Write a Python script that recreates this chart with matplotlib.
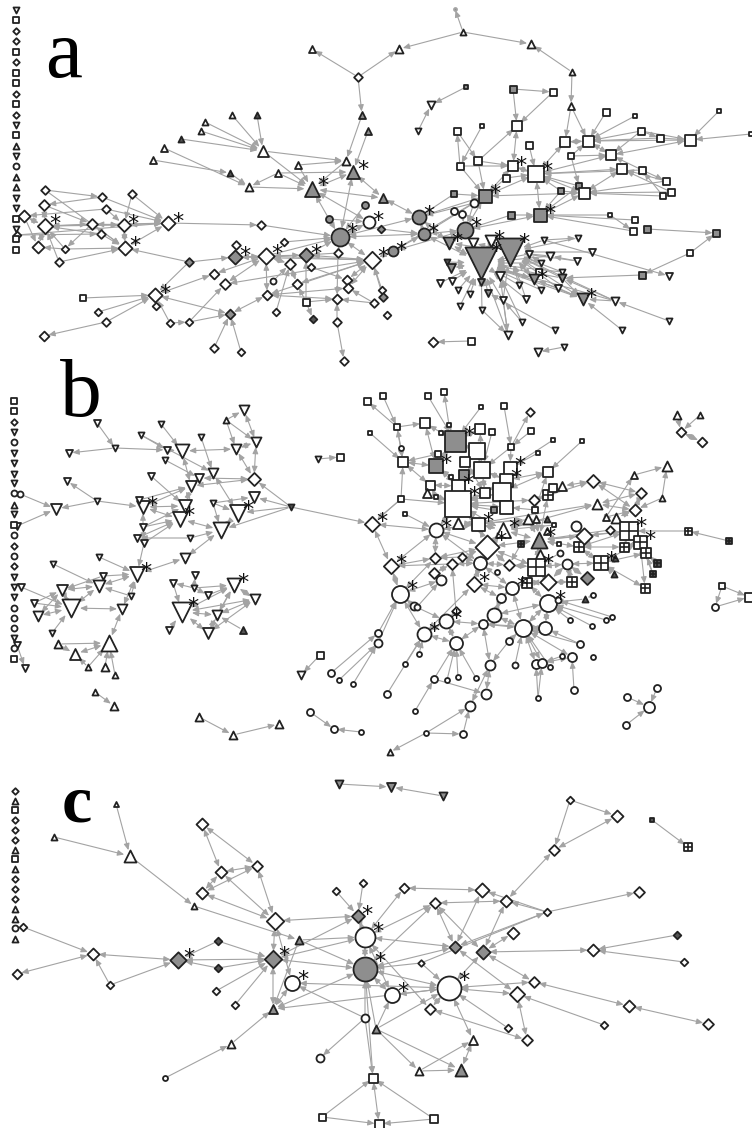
import matplotlib
matplotlib.use("Agg")
import matplotlib.pyplot as plt
from matplotlib.patches import FancyArrowPatch

# nodes: id, x, y, shape, size, fill, star  (# = square with a cross)
a_nodes = [
("a1",45,190,"D",8,"w",0),("a2",102,197,"D",8,"w",0),("a3",132,194,"D",8,"w",0),("a4",44,205,"D",10,"w",0),
("a5",106,209,"D",8,"w",0),("a6",24,216,"D",11,"w",0),("a7",45,226,"D",14,"w",1),("a8",92,224,"D",10,"w",0),
("a9",124,225,"D",12,"w",1),("a10",168,223,"D",13,"w",1),("a11",101,234,"D",8,"w",0),("a12",17,235,"D",7,"w",0),
("a13",38,247,"D",11,"w",0),("a14",65,249,"D",7,"w",0),("a15",125,248,"D",13,"w",1),("a16",59,262,"D",8,"w",0),
("a17",261,225,"D",8,"w",0),("a18",189,262,"D",8,"g",0),("a19",235,257,"D",13,"g",1),("a20",266,256,"D",15,"w",1),
("a21",306,255,"D",13,"g",1),("a22",236,245,"D",8,"w",0),("a23",284,242,"D",7,"w",0),("a24",338,253,"D",8,"w",0),
("a25",290,264,"D",10,"w",0),("a26",311,267,"D",7,"w",0),("a27",214,274,"D",9,"w",0),("a28",225,284,"D",10,"w",0),
("a29",273,281,"o",6,"w",0),("a30",297,284,"D",9,"w",0),("a31",347,280,"D",9,"w",0),("a32",348,288,"D",9,"w",0),
("a33",155,295,"D",13,"w",1),("a34",83,298,"s",6,"w",0),("a35",98,312,"D",7,"w",0),("a36",156,306,"D",7,"w",0),
("a37",106,322,"D",8,"w",0),("a38",44,336,"D",9,"w",0),("a39",170,323,"D",7,"w",0),("a40",189,322,"D",7,"w",0),
("a41",230,314,"D",9,"g",0),("a42",267,295,"D",9,"w",0),("a43",306,302,"s",7,"w",0),("a44",337,299,"D",9,"w",0),
("a45",374,303,"D",8,"w",0),("a46",276,312,"D",7,"w",0),("a47",313,319,"D",7,"d",0),("a48",337,322,"D",8,"w",0),
("a49",344,361,"D",8,"w",0),("a50",214,348,"D",8,"w",0),("a51",241,352,"D",7,"w",0),("a52",372,260,"D",16,"w",1),
("a53",358,77,"D",8,"w",0),("d1",381,229,"D",7,"g",0),("d2",382,290,"D",7,"w",0),("d3",383,297,"D",8,"g",0),
("d5",387,315,"D",7,"w",0),("d6",433,342,"D",9,"w",0),("u1",455,9,"o",3,"g",0),
("t1",312,49,"^",7,"w",0),("t2",362,115,"^",7,"g",0),("t3",368,131,"^",7,"g",0),("t4",257,115,"^",6,"d",0),
("t5",232,115,"^",6,"w",0),("t6",205,122,"^",6,"w",0),("t7",201,131,"^",6,"w",0),("t8",181,139,"^",6,"d",0),
("t9",164,148,"^",7,"w",0),("t10",153,160,"^",7,"w",0),("t11",263,151,"^",11,"w",0),("t12",346,161,"^",8,"w",0),
("t13",298,165,"^",7,"w",0),("t14",278,173,"^",7,"w",0),("t15",230,173,"^",6,"d",0),("t16",249,187,"^",8,"w",0),
("t17",312,189,"^",15,"g",1),("t18",353,172,"^",13,"g",1),("t19",383,198,"^",9,"g",0),("t20",463,32,"^",6,"w",0),
("t21",399,49,"^",8,"w",0),("t22",531,44,"^",8,"w",0),("t23",572,72,"^",6,"w",0),("t24",571,106,"^",7,"w",0),
("c1",329,219,"o",7,"g",0),("c2",365,205,"o",7,"g",0),("c3",369,222,"o",12,"w",1),("c4",340,237,"o",18,"g",1),
("c5",419,217,"o",14,"g",1),("c6",424,234,"o",12,"g",1),("c7",465,230,"o",16,"g",1),("c8",474,203,"o",8,"w",0),
("c9",454,211,"o",7,"w",0),("c10",462,214,"o",7,"w",0),("c11",393,251,"o",10,"g",1),
("s1",466,87,"s",5,"g",0),("s2",513,89,"s",7,"g",0),("s3",553,92,"s",7,"w",0),("s4",517,126,"s",10,"w",0),
("s5",606,112,"s",7,"w",0),("s6",635,116,"s",5,"w",0),("s7",719,111,"s",5,"w",0),("s8",457,131,"s",7,"w",0),
("s9",482,126,"s",5,"w",0),("s10",641,131,"s",7,"w",0),("s11",660,138,"s",7,"w",0),("s12",690,140,"s",11,"w",0),
("s13",751,134,"s",5,"w",0),("s14",529,145,"s",7,"w",0),("s15",565,142,"s",10,"w",0),("s16",588,141,"s",11,"w",0),
("s17",611,155,"s",10,"w",0),("s18",571,156,"s",6,"w",0),("s19",460,166,"s",7,"w",0),("s20",478,161,"s",8,"w",0),
("s21",513,166,"s",10,"w",1),("s22",506,178,"s",7,"w",0),("s23",536,174,"s",16,"w",1),("s24",622,169,"s",10,"w",0),
("s25",642,170,"s",7,"w",0),("s26",666,181,"s",7,"w",0),("s27",671,192,"s",7,"w",0),("s28",663,196,"s",6,"w",0),
("s29",454,194,"s",6,"g",0),("s30",485,196,"s",13,"g",1),("s31",561,191,"s",6,"g",0),("s32",579,186,"s",6,"g",0),
("s33",584,193,"s",11,"w",0),("s34",511,215,"s",7,"g",0),("s35",540,215,"s",13,"g",1),("s36",610,215,"s",5,"w",0),
("s37",635,220,"s",6,"w",0),("s38",633,231,"s",7,"w",0),("s39",647,229,"s",7,"g",0),("s40",716,233,"s",7,"g",0),
("s41",690,253,"s",6,"w",0),("s42",642,275,"s",7,"g",0),("s43",471,341,"s",7,"w",0),("s44",539,272,"s",6,"w",0),
("v1",431,105,"v",8,"w",0),("v2",418,131,"v",6,"w",0),("v3",449,243,"v",12,"g",1),("v4",473,243,"v",10,"w",0),
("v5",491,241,"v",12,"w",1),("v6",481,263,"v",32,"g",1),("v7",510,252,"v",28,"g",1),("v8",544,240,"v",6,"w",0),
("v9",578,238,"v",6,"w",0),("v10",592,252,"v",7,"w",0),("v11",447,262,"v",6,"d",0),("v12",529,254,"v",7,"w",0),
("v13",541,263,"v",6,"w",0),("v14",550,256,"v",8,"w",0),("v15",577,261,"v",7,"w",0),("v16",451,268,"v",9,"g",0),
("v17",500,276,"v",9,"w",0),("v18",534,279,"v",10,"g",1),("v19",562,272,"v",6,"w",0),("v20",562,278,"v",8,"g",0),
("v21",440,283,"v",7,"w",0),("v22",452,281,"v",7,"w",0),("v23",481,282,"v",7,"g",0),("v24",519,285,"v",6,"w",0),
("v25",458,290,"v",6,"w",0),("v26",470,294,"v",6,"w",0),("v27",488,293,"v",7,"g",0),("v28",503,300,"v",7,"w",0),
("v29",526,299,"v",7,"w",0),("v30",541,290,"v",6,"w",0),("v31",558,288,"v",7,"w",0),("v32",583,299,"v",12,"g",1),
("v33",615,301,"v",8,"w",0),("v34",669,276,"v",7,"w",0),("v35",460,306,"v",6,"w",0),("v36",482,310,"v",6,"w",0),
("v37",522,322,"v",6,"w",0),("v38",508,335,"v",8,"w",0),("v39",555,330,"v",6,"w",0),("v40",622,330,"v",6,"w",0),
("v41",669,321,"v",6,"w",0),("v42",538,352,"v",8,"w",0),("v43",564,347,"v",6,"w",0),
]
a_edges = """a1=a2 a1=a15 a2=a4 a2=a10 a3>a9 a3>a10 a4=a7 a4>a8 a5=a10 a5=a6 a5>a9 a6=a7 a6>a13 a7=a8 a7=a9 a7=a10 a7=a13
a7=a14 a7=a16 a8=a15 a8=a9 a8>a14 a9=a10 a9=a15 a10=a15 a10=a12 a11=a12 a11=a15 a11=a7 a13=a14 a14=a15 a16=a15 a10>a17 a17>c4
a15=a18 a18=a19 a18=a33 a19=a20 a19=a22 a20=a21 a23>c4 a20>c4 a21>c4 a20=a25 a20=a28 a20=a27 a20=a42 a21=a52 a21=a43 a21=a24
a25=a46 a25=a29 a25=a30 a26=a31 a24=a44 a30=a52 a30=a43 a27=a33 a33=a34 a33=a35 a33=a37 a37=a38 a33=a41 a33=a39 a39=a40 a40=a28
a40=a41 a41=a42 a42=a44 a42=a52 a41=a50 a41=a51 a43=a47 a43=a44 a44=a45 a44=a48 a48=a49 a31=a52 a32=a52 a32=a45 a32=a42 a28=a52
a19=a52 a20=a52 a53>t1 a53>t2 a53=t21 t21=t20 t20=t22 t20>u1 t22=t23 t23=t24 t24=s15 t24=s16 t4>t11 t5>t11 t6>t11 t7>t11 t8>t11
t11>t12 t11>t17 t9=t16 t10>t15 t15=t16 t16=t14 t16=t17 t14=t17 t13=t17 t13=t12 t14=t18 t17=t18 t12=t2 t12=t17 t18=t3 t17=c1 c1=c4
t17=c3 t18=c4 t19=t18 t19=t17 c2=c4 c3=c4 c1=c3 c4=c5 c4=c6 c4=a52 c4=a24 c5=t19 c5=s29 c5=c6 c5=c8 c5=s30 c6=c7 c6=c8 c6=c11 c6=d1
c7=s30 c7=s34 c7=s35 c7=c8 c7=c10 c11=s30 c11=c7 c11=a52 a52=d2 a52=d3 c7=v3 c5=v3 c6=v6 s29=s30 s30=s22 s30=s19 s30=s20 s30=s23
s30=s21 s30=s33 s23=s35 s23=s22 s23=s21 s23=s14 s23=s15 s23=s17 s23=s24 s23=s32 s23=s33 s23=s31 s21=s19 s21=s20 s21=s4 s4=s2 s4=s3
s4=s20 s2=s3 s19=s8 s19=s9 s20=s8 s34=s35 s35=s31 s35=s32 s35=s36 s35=s37 s35=s38 s36=s38 s35=s33 s32=s33 s31=s33 s18=s32 s18=s16
s18=s17 s15=s16 s16=s5 s16=s6 s16=s10 s16=s11 s16=s17 s16=s12 s10=s11 s10=s12 s11=s12 s10=s17 s12=s13 s7>s12 s17=s25 s17=s12 s24=s26
s24=s27 s24=s33 s25=s28 s25=s26 s33=s27 s33=s28 s33=s26 s23=s25 s39=s40 s40=s41 s41=s42 s42=v20 v1=s1 v1=v2 v6=v3 v6=v4 v6=v5 v6=v11
v6=v16 v6=v21 v6=v22 v6=v23 v6=v25 v6=v26 v6=v27 v6=v28 v6=v17 v6=v35 v6=v36 v6=v38 v6=v29 v6=v18 v6=v13 v6=v12 v6=v14 v6=v19 v6=v20
v6=v24 v6=v30 v6=v31 v6=v33 v6=v32 v7=v8 v7=v9 v7=v10 v7=v12 v7=v14 v7=v13 v7=v15 v7=v18 v7=v17 v7=v20 v7=v31 v7=v32 v7=v33 v7=v19
v7=v24 v7=v30 v7=v29 v7=v4 v7=v5 v7=v3 v7=v28 v8=v9 v8>v34 v38=v28 v38=v17 v38=v36 v37=v17 v37=v28 v39=v27 v40=v32 v41=v33 v32=v33
v32=v20 v32=v18 v32=v31 v33=v20 v14=v15 v12=v13 d6=s43 v42=v43"""
a_col_shapes = list("vsDDsDssDsDvs^vo^^vvsvss")
a_col_fill = list("wwwwwwwwwgwwwwwwwwwwwwwg")
a_col_y = [10,20,31,41,52,62,73,83,94,104,115,125,135,146,156,166,177,187,198,208,219,229,239,250]

b_nodes = [
("b1",97,423,"v",7,"w",0),("b2",161,424,"v",6,"w",0),("b3",226,420,"^",6,"w",0),("b4",244,410,"v",10,"w",0),
("b5",256,442,"v",10,"w",0),("b6",141,435,"v",6,"w",0),("b7",201,437,"v",6,"w",0),("b8",115,448,"v",6,"w",0),
("b9",69,453,"v",7,"w",0),("b10",167,450,"v",7,"w",0),("b11",182,451,"v",14,"w",0),("b12",236,449,"v",10,"w",0),
("b13",165,460,"v",6,"w",0),("b14",213,473,"v",10,"w",0),("b15",254,479,"D",12,"w",0),("b16",199,478,"v",9,"w",0),
("b17",191,486,"v",11,"w",0),("b18",151,476,"v",7,"w",0),("b19",67,481,"v",7,"w",0),("b20",97,501,"v",6,"w",0),
("b21",291,507,"v",6,"d",0),("b22",254,497,"v",11,"w",0),("b23",213,503,"v",6,"w",0),("b24",238,513,"v",17,"w",1),
("b25",185,506,"v",13,"w",0),("b26",180,519,"v",15,"w",1),("b27",221,530,"v",16,"w",0),("b28",143,507,"v",13,"w",1),
("b29",139,500,"v",7,"w",0),("b30",56,509,"v",11,"w",0),("b31",20,494,"o",6,"w",0),("b32",17,526,"v",7,"w",0),
("b33",143,527,"v",7,"w",0),("b34",137,538,"v",7,"w",0),("b35",144,543,"v",7,"w",0),("b36",190,538,"v",6,"w",0),
("b37",185,558,"v",10,"w",0),("b38",99,557,"v",6,"w",0),("b39",53,564,"v",6,"w",0),("b40",137,574,"v",15,"w",1),
("b41",103,576,"v",7,"w",0),("b42",99,586,"v",12,"w",0),("b43",62,590,"v",11,"w",0),("b44",21,587,"v",7,"w",0),
("b45",34,603,"v",7,"w",0),("b46",71,608,"v",18,"w",0),("b47",38,616,"v",10,"w",0),("b48",131,596,"v",6,"w",0),
("b49",122,609,"v",10,"w",0),("b50",52,633,"v",6,"w",0),("b51",173,583,"v",7,"w",0),("b52",195,575,"v",7,"w",0),
("b53",194,588,"v",6,"w",0),("b54",208,595,"v",7,"w",0),("b55",234,585,"v",14,"w",1),("b56",255,599,"v",10,"w",0),
("b57",182,612,"v",20,"w",1),("b58",217,615,"v",10,"w",0),("b59",169,630,"v",7,"w",0),("b60",208,633,"v",11,"w",0),
("b61",243,630,"^",7,"d",0),("b62",109,643,"^",16,"w",0),("b63",58,644,"^",8,"w",0),("b64",75,654,"^",11,"w",0),
("b65",88,667,"^",6,"w",0),("b66",105,667,"^",8,"w",0),("b67",115,675,"^",6,"w",0),("b68",25,668,"v",7,"w",0),
("b69",17,645,"v",7,"w",0),("b70",95,692,"^",6,"w",0),("b71",114,706,"^",8,"w",0),("b72",199,717,"^",8,"w",0),
("b73",233,735,"^",8,"w",0),("b74",279,724,"^",8,"w",0),("b75",310,712,"o",7,"w",0),("b76",334,729,"o",7,"w",0),
("b77",361,732,"o",5,"w",0),("b78",318,459,"v",6,"w",0),("b79",340,457,"s",7,"w",0),("b80",320,655,"s",7,"w",0),
("b81",301,675,"v",8,"w",0),("b82",331,673,"o",7,"w",0),("b83",339,680,"o",5,"w",0),("b84",353,684,"o",5,"w",0),
("x1",367,401,"s",7,"w",0),("x2",370,433,"s",5,"w",0),("x3",372,524,"D",14,"w",1),
("r1",383,396,"s",6,"w",0),("r2",428,396,"s",6,"w",0),("r3",444,392,"s",6,"w",0),("r4",481,407,"s",5,"w",0),
("r5",504,406,"s",6,"w",0),("r6",530,412,"D",8,"w",0),("r7",397,427,"s",6,"w",0),("r8",425,423,"s",10,"w",0),
("r9",449,425,"s",5,"w",0),("r10",441,433,"s",5,"w",0),("r11",455,441,"s",21,"g",1),("r12",480,429,"s",10,"w",0),
("r13",492,432,"s",6,"w",0),("r14",531,431,"s",6,"w",0),("r15",553,440,"s",5,"w",0),("r16",582,441,"s",5,"w",0),
("r17",401,448,"o",5,"w",0),("r18",511,447,"s",6,"w",0),("r19",477,451,"s",16,"w",0),("r20",438,454,"s",6,"w",0),
("r21",538,453,"s",5,"w",0),("r22",403,462,"s",10,"w",0),("r23",436,466,"s",14,"g",1),("r24",465,462,"s",10,"w",0),
("r25",482,470,"s",16,"w",0),("r26",510,468,"s",13,"w",1),("r27",548,472,"s",10,"w",0),("r28",464,475,"s",10,"g",0),
("r29",451,477,"s",5,"w",0),("r30",506,480,"s",13,"w",1),("r31",430,485,"s",9,"w",0),("r32",458,486,"s",13,"w",1),
("r33",485,493,"s",10,"w",0),("r34",502,492,"s",18,"w",0),("r35",427,493,"^",9,"w",0),("r36",436,497,"s",5,"w",0),
("r37",401,499,"s",6,"w",0),("r38",458,504,"s",26,"w",1),("r39",506,507,"s",13,"w",0),("r40",494,510,"s",6,"g",0),
("r41",405,514,"s",5,"w",0),("r42",535,510,"s",6,"w",0),("r43",534,500,"D",10,"w",0),("r44",548,495,"#",10,"w",0),
("r45",553,488,"s",8,"w",0),("r46",562,486,"^",9,"w",0),("r47",593,481,"D",12,"w",0),("r48",641,493,"D",10,"w",0),
("r49",634,475,"^",7,"w",0),("r50",667,466,"^",10,"w",0),("r51",662,498,"^",6,"w",0),("r52",597,504,"^",10,"w",0),
("r53",635,510,"D",11,"w",0),("r54",606,517,"^",7,"w",0),("r55",616,518,"^",10,"w",0),("r56",629,531,"#",18,"w",1),
("r57",688,531,"#",7,"w",0),("r58",729,541,"#",6,"d",0),("r59",640,542,"#",13,"w",1),("r60",646,553,"#",10,"w",0),
("r61",657,563,"#",7,"d",0),("r62",653,574,"#",6,"d",0),("r63",645,588,"#",9,"w",0),("r64",601,563,"#",14,"w",1),
("r65",624,547,"#",9,"w",0),("r66",579,547,"#",10,"w",0),("r67",615,558,"^",6,"d",0),("r68",614,574,"^",6,"d",0),
("r69",610,530,"D",8,"w",0),("r70",576,526,"o",10,"w",0),("r71",584,536,"D",15,"w",0),("r72",547,519,"^",6,"d",0),
("r73",554,525,"s",5,"w",0),("r74",536,519,"^",7,"w",0),("r75",528,519,"^",10,"w",0),("r76",503,530,"^",15,"w",1),
("r77",539,540,"^",16,"g",1),("r78",547,531,"^",7,"w",0),("r79",559,544,"s",5,"w",0),("r80",560,553,"o",6,"w",0),
("r81",540,555,"^",11,"w",0),("r82",521,544,"#",6,"d",0),("r83",478,524,"s",13,"w",1),("r84",458,523,"^",11,"w",0),
("r85",436,530,"o",14,"w",1),("r86",487,547,"D",22,"w",1),("r87",435,558,"D",10,"w",0),("r88",462,557,"D",8,"w",0),
("r89",452,564,"D",10,"w",0),("r90",391,566,"D",14,"w",1),("r91",480,563,"o",13,"w",0),("r92",509,565,"D",10,"w",0),
("r93",536,567,"#",17,"w",1),("r94",567,564,"o",10,"w",0),("r95",497,572,"o",5,"w",0),("r96",434,573,"D",10,"w",0),
("r97",441,580,"o",10,"w",0),("r98",527,583,"#",10,"w",0),("r99",572,582,"#",10,"w",0),("r100",587,578,"D",12,"g",0),
("r101",548,582,"D",15,"w",0),("r102",474,584,"D",14,"w",1),("r103",512,588,"o",13,"w",1),("r104",501,598,"o",9,"w",0),
("r105",400,594,"o",17,"w",1),("r106",548,603,"o",17,"w",1),("r107",585,599,"^",6,"d",0),("r108",593,595,"o",5,"w",0),
("r109",558,600,"o",6,"w",0),("r110",414,606,"o",8,"w",0),("r111",417,607,"o",6,"w",0),("r112",456,611,"D",8,"w",0),
("r113",446,621,"o",14,"w",1),("r114",494,615,"o",14,"w",0),("r115",483,624,"o",9,"w",0),("r116",523,628,"o",17,"w",0),
("r117",545,628,"o",13,"w",0),("r118",424,634,"o",14,"w",1),("r119",456,643,"o",13,"w",0),("r120",570,620,"o",5,"w",0),
("r121",606,620,"o",5,"w",0),("r122",612,617,"o",5,"w",0),("r123",592,626,"o",5,"w",0),("r124",509,641,"o",7,"w",0),
("r125",580,644,"o",7,"w",0),("r126",562,656,"o",5,"w",0),("r127",572,657,"o",9,"w",0),("r128",593,657,"o",5,"w",0),
("r129",405,664,"o",5,"w",0),("r130",419,654,"o",5,"w",0),("r131",490,665,"o",10,"w",0),("r132",515,665,"o",6,"w",0),
("r133",536,664,"o",9,"w",0),("r134",542,663,"o",9,"w",0),("r135",550,667,"o",5,"w",0),("r136",378,633,"o",7,"w",0),
("r161",378,643,"o",8,"w",0),("r137",434,679,"o",7,"w",0),("r138",447,680,"o",5,"w",0),("r139",458,677,"o",5,"w",0),
("r140",476,678,"o",5,"w",0),("r141",486,694,"o",10,"w",0),("r142",387,694,"o",7,"w",0),("r143",415,711,"o",5,"w",0),
("r144",538,698,"o",5,"w",0),("r145",574,690,"o",7,"w",0),("r146",470,706,"o",10,"w",0),("r147",426,733,"o",5,"w",0),
("r148",463,734,"o",7,"w",0),("r149",390,752,"^",6,"w",0),("r150",627,697,"o",7,"w",0),("r151",657,688,"o",7,"w",0),
("r152",649,707,"o",11,"w",0),("r153",626,725,"o",7,"w",0),("r154",722,586,"s",6,"w",0),("r155",749,597,"s",9,"w",0),
("r156",715,607,"o",7,"w",0),("r157",677,415,"^",8,"w",0),("r158",700,415,"^",6,"w",0),("r159",681,432,"D",9,"w",0),
("r160",702,442,"D",9,"w",0),
]
b_edges = """b1>b8 b9=b8 b8=b10 b10=b6 b10=b11 b11=b12 b2=b11 b3=b4 b3=b5 b3=b12 b4=b5 b5=b12 b5=b15 b12=b15 b7=b14 b13=b16 b6>b14 b14=b24
b11=b17 b15=b16 b15=b17 b15=b21 b16=b17 b17=b28 b17=b29 b17=b25 b18=b25 b19=b20 b20=b30 b20=b28 b30=b31 b30=b32 b28=b25 b28=b26 b28=b33
b25=b26 b25=b33 b26=b27 b26=b35 b26=b33 b26=b34 b33=b35 b35=b34 b36=b34 b36=b27 b27=b24 b27=b23 b27=b37 b24=b23 b22=b23 b22=b21 b21=b24
b21=b27 b21>x3 b35=b40 b37=b40 b38=b40 b39=b42 b41=b40 b41=b43 b42=b40 b42=b43 b42=b46 b44=b46 b43=b46 b43=b45 b43=b47 b45=b46 b47=b46
b46=b50 b46=b49 b42=b48 b40=b48 b40=b49 b49=b62 b51=b53 b51=b57 b52=b53 b53=b55 b54=b55 b53=b54 b55=b56 b55=b57 b55=b58 b55=b60 b57=b56
b57=b58 b57=b59 b57=b60 b56=b58 b56=b60 b58=b61 b58=b60 b62=b63 b62=b64 b63=b64 b62=b65 b62=b66 b62=b67 b64=b65 b69=b68 b70=b71 b72=b73
b73=b74 b75=b76 b76=b77 b78=b79 b80=b81 b82=r136 b83=r161 b84=r161 x1=r7 x2=r22 x3=r85 x3=r37 x3=r90 r1=r7 r7=r8 r7=r22 r7=r17 r2=r11
r3=r9 r4=r11 r5=r18 r6=r18 r14=r18 r18=r26 r18=r25 r15=r26 r16=r27 r21=r26 r8=r11 r8=r23 r9=r11 r10=r11 r11=r12 r11=r19 r11=r23 r13=r25
r12=r25 r19=r25 r19=r24 r20=r22 r20=r23 r22=r23 r22=r37 r22=r31 r17=r22 r23=r29 r23=r32 r24=r33 r25=r33 r25=r28 r25=r30 r26=r30 r27=r30
r27=r34 r30=r34 r30=r33 r34=r38 r33=r38 r34=r39 r31=r32 r31=r35 r31=r36 r32=r38 r35=r38 r36=r38 r37=r38 r28=r32 r29=r32 r40=r38 r39=r38
r38=r83 r38=r76 r38=r85 r38=r43 r41=r85 r85=r90 r85=r91 r85=r87 r37=x3 r83=r86 r83=r76 r83=r85 r83=r84 r76=r86 r76=r77 r76=r91 r76=r74
r76=r75 r77=r71 r77=r66 r77=r69 r77=r56 r77=r93 r77=r86 r77=r75 r77=r74 r77=r79 r71=r56 r71=r70 r66=r56 r66=r64 r66=r65 r65=r56 r65=r59
r59=r56 r59=r60 r60=r61 r60=r62 r59=r63 r56=r57 r57=r58 r59=r62 r64=r67 r64=r68 r64=r59 r64=r60 r64=r63 r64=r94 r56=r55 r55=r54 r55=r53
r53=r52 r53=r47 r53=r48 r53=r51 r53=r54 r54=r49 r49=r50 r50=r51 r48=r47 r47=r46 r47=r43 r48=r52 r52=r76 r52=r85 r43=r44 r44=r45 r44=r46
r44=r77 r27=r42 r42=r39 r42=r77 r72=r76 r73=r76 r74=r83 r75=r83 r86=r85 r86=r87 r86=r88 r86=r91 r86=r93 r86=r92 r91=r92 r91=r89 r91=r88
r91=r102 r91=r103 r92=r93 r92=r82 r93=r94 r93=r101 r93=r98 r93=r80 r94=r99 r94=r100 r94=r101 r101=r98 r101=r99 r98=r103 r98=r106
r103=r102 r103=r116 r102=r104 r102=r118 r90=r91 r90=r105 r90=r87 r87=r88 r87=r105 r89=r112 r89=r96 r96=r97 r97=r105 r97=r111 r105=r110
r105=r118 r105=r136 r105=r161 r104=r103 r104=r114 r106=r116 r106=r114 r106=r117 r106=r107 r106=r121 r106=r123 r106=r109 r109=r122
r107=r108 r116=r117 r116=r114 r116=r115 r116=r124 r116=r132 r116=r133 r116=r134 r116=r135 r116=r125 r116=r127 r117=r125 r117=r115
r124=r131 r131=r115 r131=r141 r131=r146 r115=r114 r115=r119 r113=r118 r113=r115 r113=r112 r113=r110 r113=r119 r118=r119 r118=r130
r118=r129 r118=r142 r119=r137 r119=r138 r119=r139 r119=r140 r137=r143 r137=r141 r133=r144 r134=r144 r126=r134 r127=r145 r127=r134
r146=r147 r146=r148 r147=r148 r147=r149 r150=r152 r151=r152 r152=r153 r154=r155 r155=r156 r154=r156 r157=r159 r158=r159 r159=r160
r120=r106"""
b_col_shapes = list("ssDvovvvvo^vsoDoDvvvooovos")
b_col_y = [401,411,422,432,442,453,463,474,483,493,505,514,525,535,546,556,566,577,587,597,608,618,628,638,648,659]

c_nodes = [
("c1",116,804,"^",5,"w",0),("c2",54,837,"^",6,"w",0),("c3",130,856,"^",12,"w",0),("c4",202,824,"D",11,"w",0),
("c5",221,872,"D",11,"w",0),("c6",257,866,"D",10,"w",0),("c7",202,893,"D",11,"w",0),("c8",194,906,"^",6,"w",0),
("c9",275,921,"D",16,"w",0),("c10",336,891,"D",7,"w",0),("c11",363,883,"D",7,"w",0),("c12",358,916,"D",12,"g",1),
("c13",299,940,"^",8,"g",0),("c14",365,937,"o",20,"w",1),("c15",23,927,"D",7,"w",0),("c16",93,954,"D",11,"w",0),
("c17",17,974,"D",9,"w",0),("c18",110,985,"D",7,"w",0),("c19",178,960,"D",15,"g",1),("c20",218,941,"D",7,"d",0),
("c21",218,968,"D",7,"d",0),("c22",273,959,"D",16,"g",1),("c23",216,991,"D",7,"w",0),("c24",235,1005,"D",7,"w",0),
("c25",292,983,"o",15,"w",1),("c26",273,1009,"^",9,"g",0),("c27",231,1044,"^",8,"w",0),("c28",165,1078,"o",5,"w",0),
("c29",365,969,"o",24,"g",1),("c30",365,1018,"o",8,"w",0),("c31",376,1029,"^",8,"g",0),("c32",320,1058,"o",8,"w",0),
("c33",373,1078,"s",9,"w",0),("c34",322,1117,"s",7,"w",0),("c35",379,1124,"s",9,"w",0),("c37",391,787,"v",9,"g",0),
("c38",443,796,"v",8,"g",0),("c39",339,784,"v",8,"g",0),("c40",570,800,"D",7,"w",0),("c41",617,816,"D",11,"w",0),
("c42",554,850,"D",10,"w",0),("c43",652,820,"s",5,"d",0),("c44",688,847,"#",8,"w",0),("c45",404,888,"D",9,"w",0),
("c46",482,890,"D",13,"w",0),("c47",435,903,"D",10,"w",0),("c48",506,901,"D",11,"w",0),("c49",547,912,"D",7,"w",0),
("c50",639,892,"D",10,"w",0),("c51",513,933,"D",11,"w",0),("c52",677,935,"D",7,"d",0),("c53",455,947,"D",11,"g",0),
("c54",483,952,"D",13,"g",0),("c55",593,950,"D",11,"w",0),("c56",684,962,"D",7,"w",0),("c57",421,963,"D",6,"w",0),
("c58",449,988,"o",24,"w",1),("c59",534,982,"D",10,"w",0),("c60",517,994,"D",14,"w",0),("c61",629,1006,"D",11,"w",0),
("c62",708,1024,"D",10,"w",0),("c63",604,1025,"D",7,"w",0),("c64",508,1028,"D",7,"w",0),("c65",392,995,"o",15,"w",1),
("c66",430,1009,"D",10,"w",0),("c67",527,1040,"D",10,"w",0),("c68",473,1040,"^",9,"w",0),("c69",419,1071,"^",8,"w",0),
("c70",461,1070,"^",12,"g",0),("c71",434,1119,"s",8,"w",0),
]
c_edges = """c1>c3 c2>c3 c3>c8 c8=c13 c4=c5 c4=c6 c5=c6 c5=c7 c6=c7 c5=c9 c6=c9 c7=c9 c9=c12 c9=c22 c9=c25 c10>c12 c11>c12 c12=c14 c12=c22
c13=c14 c13=c29 c13=c26 c22=c14 c22=c29 c22=c19 c22=c20 c22=c21 c22=c23 c22=c24 c22=c26 c19=c20 c19=c21 c19=c16 c19=c18 c16=c15 c16=c17
c16=c18 c25=c26 c25=c30 c25=c58 c26=c27 c26=c29 c26=c58 c27=c28 c30=c29 c30=c32 c30=c33 c29=c33 c33=c34 c34=c35 c33=c35 c35=c71 c33=c71
c14=c29 c39=c37 c37=c38 c40=c41 c40=c42 c41=c42 c42=c48 c43=c44 c45=c46 c47=c48 c46=c49 c48=c49 c49=c50 c46=c53 c48=c54 c47=c54 c47=c53
c45=c14 c47=c14 c47=c29 c53=c29 c51=c54 c49=c53 c53=c60 c54=c59 c54=c58 c55=c54 c52=c55 c56=c55 c59=c61 c61=c62 c60=c63 c60=c67 c60=c58
c59=c58 c58=c64 c58=c68 c58=c66 c58=c65 c58=c29 c65=c29 c65=c31 c14=c66 c14=c53 c57=c29 c57=c58 c57=c49 c66=c67 c31=c69 c31=c70 c31=c58
c29=c31 c69=c70 c68=c69 c68=c70 c14=c65"""
c_col_shapes = list("D^sDDD^s^DDD^^o^")
c_col_y = [791,801,810,820,830,840,850,859,869,879,889,899,909,919,928,939]

panel_labels = ["a","b","c"]
label_pos = [(45,77),(60,416),(62,821)]
label_size = [60,60,49]
label_weight = ["normal","normal","bold"]

fills = {"w":"white","g":"#8e8e8e","d":"#555555"}
edge_col = "#222222"
line_col = "#a3a3a3"


def draw_node(ax,x,y,shape,size,fill):
    # D is a rotated square, so its box has to shrink to keep the visible width
    s_pt = size*0.72
    if shape=="D":
        s_pt = s_pt/1.3
    marker = "s" if shape=="#" else shape
    edge = line_col if size<=3 else edge_col
    ax.scatter([x],[y],s=s_pt**2,marker=marker,facecolor=fills[fill],edgecolor=edge,linewidth=1.3,zorder=3)
    if shape=="#":
        ax.scatter([x],[y],s=s_pt**2,marker="+",color=edge_col,linewidth=1.2,zorder=4)


def draw_panel(ax,nodes,edges,col_shapes,col_y,col_x):
    lookup = {n[0]:n for n in nodes}
    for item in edges.split():
        both = "=" in item
        src,dst = item.split("=") if both else item.split(">")
        n1,n2 = lookup[src],lookup[dst]
        # second head only between two larger nodes, small ones take just the line
        if both and min(n1[4],n2[4])<9:
            both = False
            if n1[4]>n2[4]:
                n1,n2 = n2,n1
        style = "<|-|>,head_length=0.55,head_width=0.24" if both else "-|>,head_length=0.55,head_width=0.24"
        arrow = FancyArrowPatch((n1[1],n1[2]),(n2[1],n2[2]),arrowstyle=style,mutation_scale=7,
                                shrinkA=n1[4]*0.36,shrinkB=n2[4]*0.36,color=line_col,linewidth=0.8,zorder=2)
        ax.add_patch(arrow)
    for name,x,y,shape,size,fill,star in nodes:
        draw_node(ax,x,y,shape,size,fill)
        if star:
            dx = size*0.35+4 if shape=="v" else size/2+3
            ax.text(x+dx,y-size/2-1+12,"*",fontsize=16,family="DejaVu Sans",color="#111111",
                    ha="center",va="baseline",zorder=5)
    for y,shape in zip(col_y,col_shapes):
        draw_node(ax,col_x,y,shape,6,"w")


fig = plt.figure(figsize=(7.52,11.28),dpi=100)
ax = fig.add_axes([0,0,1,1])
ax.set_xlim(0,752)
ax.set_ylim(1128,0)
ax.axis("off")

draw_panel(ax,a_nodes,a_edges,a_col_shapes,a_col_y,16)
draw_panel(ax,b_nodes,b_edges,b_col_shapes,b_col_y,14)
draw_panel(ax,c_nodes,c_edges,c_col_shapes,c_col_y,15)

for label,pos,fsize,weight in zip(panel_labels,label_pos,label_size,label_weight):
    ax.text(pos[0],pos[1],label,fontsize=fsize,family="Liberation Serif",fontweight=weight,color="black",ha="left",va="baseline")

fig.savefig("out.png",dpi=100)
